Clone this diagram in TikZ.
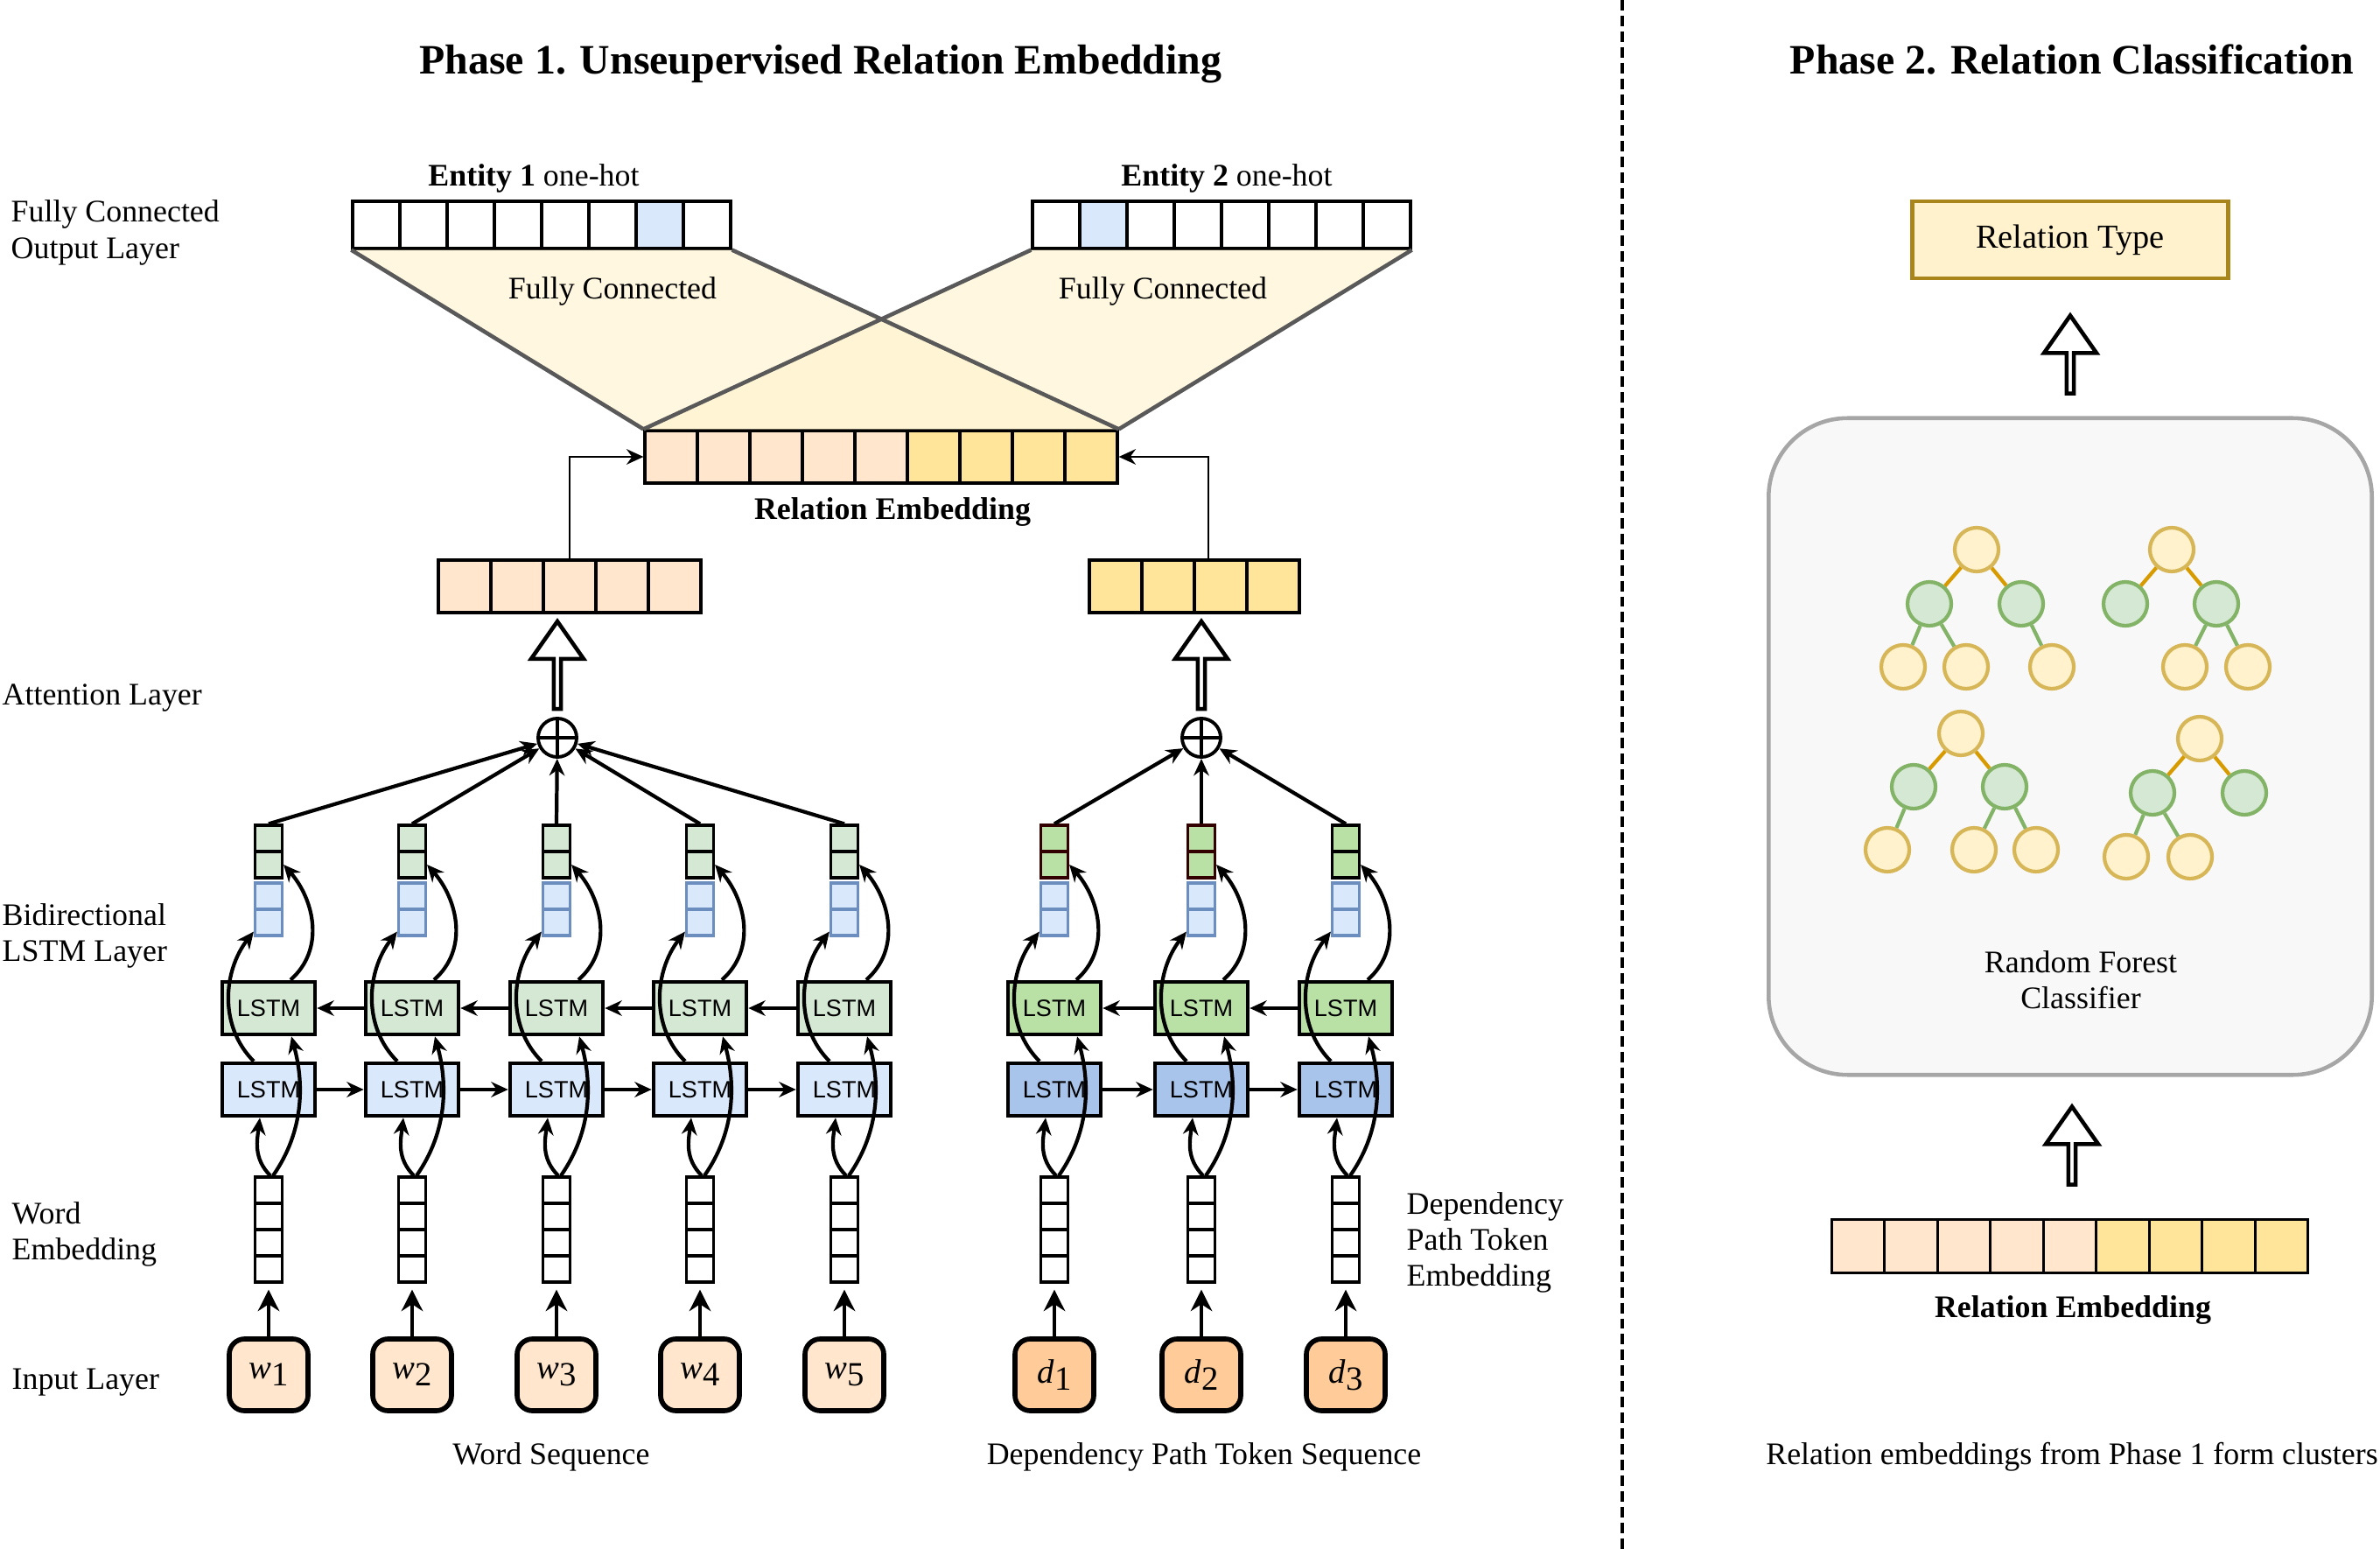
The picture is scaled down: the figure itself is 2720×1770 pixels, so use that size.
\documentclass[tikz,border=0pt]{standalone}
\usepackage{fontspec}
\setmainfont{Liberation Serif}
\setsansfont{Liberation Sans}
\usetikzlibrary{arrows.meta,shapes.arrows}
\definecolor{peach}{HTML}{FFE6CC}
\definecolor{embgold}{HTML}{FFE599}
\definecolor{inorange}{HTML}{FFCC99}
\definecolor{lblue}{HTML}{DAE8FC}
\definecolor{mblue}{HTML}{A9C4EB}
\definecolor{bblue}{HTML}{6C8EBF}
\definecolor{lgreen}{HTML}{D5E8D4}
\definecolor{mgreen}{HTML}{B9E0A5}
\definecolor{bgreen}{HTML}{82B366}
\definecolor{lyellow}{HTML}{FFF2CC}
\definecolor{byellow}{HTML}{D6B656}
\definecolor{dkyellow}{HTML}{A8861C}
\definecolor{treeorange}{HTML}{D79B00}
\definecolor{fcline}{HTML}{595959}
\definecolor{boxgray}{HTML}{A6A6A6}
\definecolor{boxfill}{HTML}{F8F8F8}
\definecolor{dkred}{HTML}{330000}
\newcommand{\bodyfont}{\fontsize{10.2pt}{11.7pt}\selectfont}
\newcommand{\tok}[2]{\textit{#1}\raisebox{-0.45ex}{#2}}
\tikzset{
  cell/.style={draw, inner sep=0pt, minimum width=0.31cm, minimum height=0.30cm, line width=0.9pt},
  hcell/.style={draw, inner sep=0pt, minimum width=0.60cm, minimum height=0.60cm, line width=0.9pt},
  ocell/.style={draw, inner sep=0pt, minimum width=0.54cm, minimum height=0.54cm, line width=0.9pt},
  lstm/.style={draw, line width=1.3pt, minimum width=1.06cm, minimum height=0.60cm, inner sep=0pt, font=\sffamily\fontsize{7.7pt}{9pt}\selectfont},
  inbox/.style={draw, line width=1.6pt, rounded corners=5pt, minimum width=0.9cm, minimum height=0.82cm, inner sep=0pt, font=\fontsize{11pt}{13pt}\selectfont},
  lbl/.style={anchor=west, align=left, inner sep=0pt},
  sidelbl/.style={anchor=base west, inner sep=0pt},
  bigarrow/.style={single arrow, draw, line width=1.3pt, fill=white, rotate=90, minimum width=0.6cm, single arrow head extend=0.145cm, single arrow tip angle=70, inner sep=0pt},
  plusnode/.style={circle, draw, line width=1.1pt, minimum size=0.44cm, inner sep=0pt,
    path picture={\draw[line width=0.9pt] (path picture bounding box.north) -- (path picture bounding box.south) (path picture bounding box.west) -- (path picture bounding box.east);}},
  conn/.style={->, line width=1.2pt},
  inarrow/.style={-{Stealth[length=7pt,width=7pt]}, line width=0.9pt, shorten >=2pt},
  treenode/.style={circle, draw=byellow, fill=lyellow, line width=1.2pt, minimum size=0.5cm, inner sep=0pt},
  splitnode/.style={treenode, draw=bgreen, fill=lgreen},
}
\begin{document}
\begin{tikzpicture}[x=0.01cm, y=-0.01cm, font=\bodyfont, >={Stealth[length=5.5pt,width=5pt]}]
\useasboundingbox (0,0) rectangle (2720,1770);

% titles and separator
\node[anchor=base, font=\fontsize{13.6pt}{16pt}\selectfont\bfseries] (title1) at (938,85) {Phase 1. Unseupervised Relation Embedding};
\node[anchor=base, font=\fontsize{13.6pt}{16pt}\selectfont\bfseries] (title2) at (2368,85) {Phase 2. Relation Classification};
\draw[line width=1.2pt, dash pattern=on 3.4pt off 1.7pt] (1854,0) -- (1854,1770);

% layer labels
\node[lbl] (lfc) at (12,266) {Fully Connected\\Output Layer};
\node[sidelbl] (latt) at (2,805) {Attention Layer};
\node[lbl] (lbi) at (2,1069) {Bidirectional\\LSTM Layer};
\node[lbl] (lwe) at (13,1410) {Word\\Embedding};
\node[sidelbl] (lin) at (13,1587) {Input Layer};
\node[lbl] (ldp) at (1607,1420) {Dependency\\Path Token\\Embedding};
\node[anchor=base] (lws) at (630,1673) {Word Sequence};
\node[anchor=base] (lds) at (1376,1673) {Dependency Path Token Sequence};

% relation embedding and one-hot outputs
\foreach \k in {0,...,4} \node[hcell, fill=peach] (re\k) at ({767+60*\k},522) {};
\foreach \k in {5,...,8} \node[hcell, fill=embgold] (re\k) at ({767+60*\k},522) {};
\foreach \k/\c in {0/white,1/white,2/white,3/white,4/white,5/white,6/lblue,7/white} \node[ocell, fill=\c] (ea\k) at ({430+54*\k},257) {};
\foreach \k/\c in {0/white,1/lblue,2/white,3/white,4/white,5/white,6/white,7/white} \node[ocell, fill=\c] (eb\k) at ({1207+54*\k},257) {};
\fill[lyellow, fill opacity=0.6] (ea0.south west) -- (ea7.south east) -- (re8.north east) -- (re0.north west) -- cycle;
\fill[lyellow, fill opacity=0.6] (eb0.south west) -- (eb7.south east) -- (re8.north east) -- (re0.north west) -- cycle;
\draw[fcline, line width=1.3pt] (ea0.south west) -- (re0.north west) (ea7.south east) -- (re8.north east)
  (eb0.south west) -- (re0.north west) (eb7.south east) -- (re8.north east);
\node[anchor=base] (ela) at (610,213) {\textbf{Entity 1} one-hot};
\node[anchor=base] (elb) at (1402,213) {\textbf{Entity 2} one-hot};
\node[anchor=base] (fca) at (700,342) {Fully Connected};
\node[anchor=base] (fcb) at (1329,342) {Fully Connected};
\node[anchor=base, font=\bodyfont\bfseries] (rel1) at (1020,594) {Relation Embedding};

% attention outputs
\foreach \k in {0,...,4} \node[hcell, fill=peach] (lv\k) at ({531+60*\k},670) {};
\foreach \k in {0,...,3} \node[hcell, fill=embgold] (rv\k) at ({1275+60*\k},670) {};
\draw[->, line width=0.8pt] (lv2.north) |- (re0.west);
\draw[->, line width=0.8pt] ([xshift=-0.14cm]rv2.north) |- (re8.east);
\node[bigarrow, minimum height=1cm] (ua1) at (637,763) {};
\node[bigarrow, minimum height=1cm] (ua2) at (1373,763) {};
\node[plusnode] (att1) at (637,843) {};
\node[plusnode] (att2) at (1373,843) {};

% word sequence columns
\foreach \i/\x in {1/307,2/471,3/636,4/800,5/965}{
  \node[inbox, fill=peach] (w\i) at (\x,1571) {\tok{w}{\i}};
  \foreach \k in {0,...,3} \node[cell] (we\i-\k) at (\x,{1360+30*\k}) {};
  \node[lstm, fill=lblue] (wf\i) at (\x,1245) {LSTM};
  \node[lstm, fill=lgreen] (wb\i) at (\x,1152) {LSTM};
  \foreach \k in {0,1} \node[cell, draw=bblue, fill=lblue] (wh\i-\k) at (\x,{1024+30*\k}) {};
  \foreach \k in {0,1} \node[cell, fill=lgreen] (wg\i-\k) at (\x,{958+30*\k}) {};
  \draw[inarrow] (w\i.north) -- (we\i-3.south);
  \draw[conn] ([xshift=0.02cm]we\i-0.north) .. controls +(-20,-20) and +(-3,25) .. ([xshift=-0.1cm]wf\i.south);
  \draw[conn] ([xshift=0.05cm]we\i-0.north) .. controls +(35,-50) and +(15,55) .. ([xshift=0.26cm]wb\i.south);
  \draw[conn] ([xshift=-0.17cm]wf\i.north) .. controls +(-40,-40) and +(-35,45) .. ([yshift=0.06cm]wh\i-1.south west);
  \draw[conn] ([xshift=0.25cm]wb\i.north) .. controls +(40,-35) and +(35,40) .. (wg\i-1.east);
  \draw[conn] (wg\i-0.north) -- (att1);
}
\foreach \i/\j in {1/2,2/3,3/4,4/5}{
  \draw[conn, line width=1pt] (wf\i) -- (wf\j);
  \draw[conn, line width=1pt] (wb\j) -- (wb\i);
}

% dependency path columns
\foreach \i/\x/\gc in {1/1205/dkred,2/1373/dkred,3/1538/black}{
  \node[inbox, fill=inorange] (d\i) at (\x,1571) {\tok{d}{\i}};
  \foreach \k in {0,...,3} \node[cell] (de\i-\k) at (\x,{1360+30*\k}) {};
  \node[lstm, fill=mblue] (df\i) at (\x,1245) {LSTM};
  \node[lstm, fill=mgreen] (db\i) at (\x,1152) {LSTM};
  \foreach \k in {0,1} \node[cell, draw=bblue, fill=lblue] (dh\i-\k) at (\x,{1024+30*\k}) {};
  \foreach \k in {0,1} \node[cell, draw=\gc, fill=mgreen] (dg\i-\k) at (\x,{958+30*\k}) {};
  \draw[inarrow] (d\i.north) -- (de\i-3.south);
  \draw[conn] ([xshift=0.02cm]de\i-0.north) .. controls +(-20,-20) and +(-3,25) .. ([xshift=-0.1cm]df\i.south);
  \draw[conn] ([xshift=0.05cm]de\i-0.north) .. controls +(35,-50) and +(15,55) .. ([xshift=0.26cm]db\i.south);
  \draw[conn] ([xshift=-0.17cm]df\i.north) .. controls +(-40,-40) and +(-35,45) .. ([yshift=0.06cm]dh\i-1.south west);
  \draw[conn] ([xshift=0.25cm]db\i.north) .. controls +(40,-35) and +(35,40) .. (dg\i-1.east);
  \draw[conn] (dg\i-0.north) -- (att2);
}
\foreach \i/\j in {1/2,2/3}{
  \draw[conn, line width=1pt] (df\i) -- (df\j);
  \draw[conn, line width=1pt] (db\j) -- (db\i);
}

% phase 2
\node[draw=dkyellow, fill=lyellow, line width=1.3pt, minimum width=3.61cm, minimum height=0.88cm, font=\fontsize{10.9pt}{13pt}\selectfont] (rtype) at (2366,274) {Relation Type};
\node[bigarrow, minimum height=0.89cm] (ua3) at (2366,408) {};
\node[draw=boxgray, fill=boxfill, line width=1.3pt, rounded corners=0.9cm, minimum width=6.89cm, minimum height=7.5cm] (rf) at (2366,853) {};
\node[align=center] (rflbl) at (2378,1120) {Random Forest\\Classifier};

% trees
\node[treenode] (ta) at (2259,628) {};
\node[splitnode] (ta1) at (2205,690) {};
\node[splitnode] (ta2) at (2310,690) {};
\node[treenode] (ta11) at (2175,762) {};
\node[treenode] (ta12) at (2247,762) {};
\node[treenode] (ta21) at (2345,762) {};
\node[treenode] (tb) at (2482,628) {};
\node[splitnode] (tb1) at (2429,690) {};
\node[splitnode] (tb2) at (2533,690) {};
\node[treenode] (tb21) at (2497,762) {};
\node[treenode] (tb22) at (2569,762) {};
\node[treenode] (tc) at (2241,838) {};
\node[splitnode] (tc1) at (2187,899) {};
\node[splitnode] (tc2) at (2291,899) {};
\node[treenode] (tc11) at (2157,971) {};
\node[treenode] (tc21) at (2256,971) {};
\node[treenode] (tc22) at (2327,971) {};
\node[treenode] (td) at (2514,844) {};
\node[splitnode] (td1) at (2460,906) {};
\node[splitnode] (td2) at (2565,906) {};
\node[treenode] (td11) at (2430,979) {};
\node[treenode] (td12) at (2503,979) {};
\draw[treeorange, line width=1.2pt] (ta) -- (ta1) (ta) -- (ta2) (tb) -- (tb1) (tb) -- (tb2)
  (tc) -- (tc1) (tc) -- (tc2) (td) -- (td1) (td) -- (td2);
\draw[bgreen, line width=1.2pt] (ta1) -- (ta11) (ta1) -- (ta12) (ta2) -- (ta21) (tb2) -- (tb21) (tb2) -- (tb22)
  (tc1) -- (tc11) (tc2) -- (tc21) (tc2) -- (tc22) (td1) -- (td11) (td1) -- (td12);

\node[bigarrow, minimum height=0.89cm] (ua4) at (2368,1312) {};
\foreach \k in {0,...,4} \node[hcell, minimum width=0.605cm, minimum height=0.61cm, fill=peach] (rb\k) at ({2123.5+60.5*\k},1424) {};
\foreach \k in {5,...,8} \node[hcell, minimum width=0.605cm, minimum height=0.61cm, fill=embgold] (rb\k) at ({2123.5+60.5*\k},1424) {};
\node[anchor=base, font=\bodyfont\bfseries] (rel2) at (2369,1505) {Relation Embedding};
\node[anchor=base] (clus) at (2368,1673) {Relation embeddings from Phase 1 form clusters};
\end{tikzpicture}
\end{document}
